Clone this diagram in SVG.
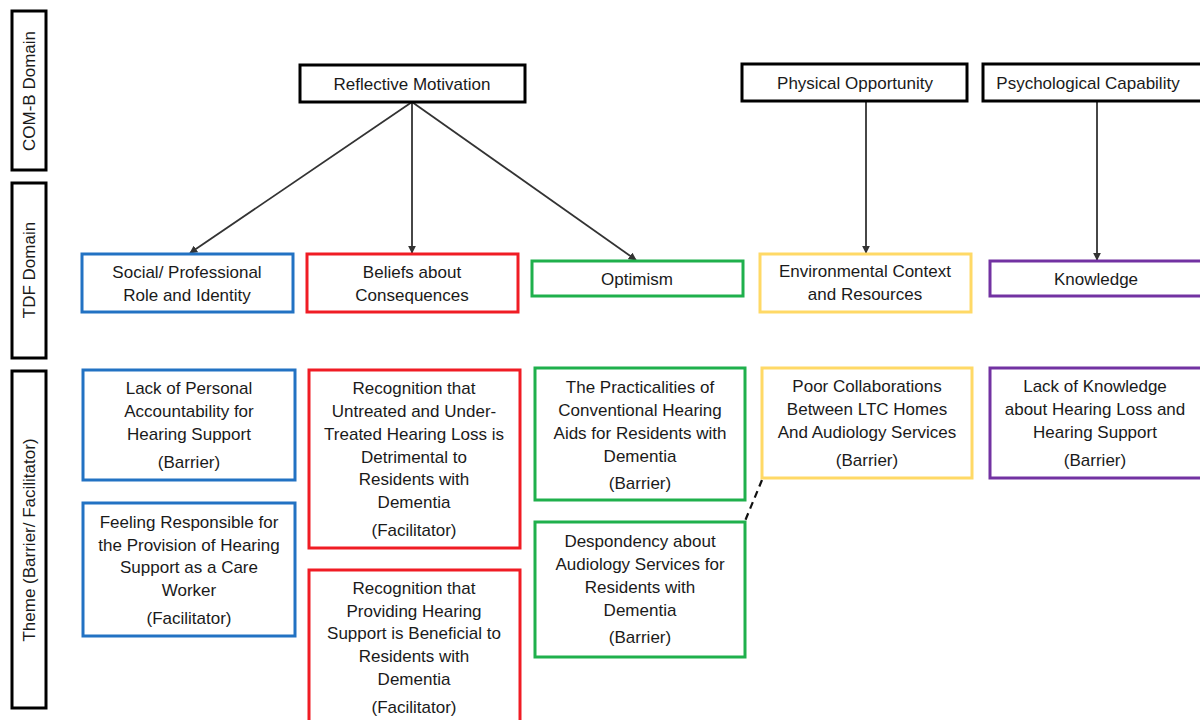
<svg xmlns="http://www.w3.org/2000/svg" width="1200" height="720" viewBox="0 0 1200 720">
<defs>
<marker id="ah" viewBox="0 0 10 10" refX="9" refY="5" markerWidth="8" markerHeight="8" markerUnits="userSpaceOnUse" orient="auto">
<path d="M0,0 L10,5 L0,10 z" fill="#333"/>
</marker>
<style>
text{font-family:"Liberation Sans",Arial,sans-serif;font-size:17px;fill:#1a1a1a;text-anchor:middle}
.blk{fill:#fff;stroke:#000;stroke-width:3}
.lab{fill:#fff;stroke:#000;stroke-width:3}
.blue{fill:#fff;stroke:#2272c3;stroke-width:3}
.red{fill:#fff;stroke:#f01c24;stroke-width:3}
.green{fill:#fff;stroke:#1fb04c;stroke-width:3}
.yellow{fill:#fff;stroke:#ffd966;stroke-width:3}
.purple{fill:#fff;stroke:#7232a2;stroke-width:3}
.conn{stroke:#333;stroke-width:1.8;fill:none}
</style>
</defs>
<rect width="1200" height="720" fill="#fff"/>

<g id="label-comb"><rect class="lab" x="12" y="11" width="34" height="159"/><text transform="translate(35,91) rotate(-90)">COM-B Domain</text></g>
<g id="label-tdf"><rect class="lab" x="12" y="183" width="34" height="175"/><text transform="translate(35,270) rotate(-90)">TDF  Domain</text></g>
<g id="label-theme"><rect class="lab" x="12" y="371" width="34" height="337"/><text transform="translate(35,540) rotate(-90)">Theme (Barrier/ Facilitator)</text></g>

<g id="connectors">
<line class="conn" x1="412" y1="102" x2="190" y2="253" marker-end="url(#ah)"/>
<line class="conn" x1="412" y1="102" x2="412" y2="253" marker-end="url(#ah)"/>
<line class="conn" x1="412" y1="102" x2="636" y2="260" marker-end="url(#ah)"/>
<line class="conn" x1="866" y1="101" x2="866" y2="253" marker-end="url(#ah)"/>
<line class="conn" x1="1097" y1="101" x2="1097" y2="260" marker-end="url(#ah)"/>
<line x1="762" y1="480" x2="745" y2="521" stroke="#111" stroke-width="2.2" stroke-dasharray="7,5"/>
</g>

<g id="reflective-motivation"><rect class="blk" x="300" y="65" width="225" height="37"/><text x="412" y="90">Reflective Motivation</text></g>
<g id="physical-opportunity"><rect class="blk" x="742" y="64" width="225" height="37"/><text x="855" y="89">Physical Opportunity</text></g>
<g id="psychological-capability"><rect class="blk" x="983" y="64" width="230" height="37"/><text x="1088" y="89">Psychological Capability</text></g>

<g id="tdf-social"><rect class="blue" x="82" y="254" width="211" height="58"/><text x="187" y="278">Social/ Professional</text><text x="187" y="301">Role and Identity</text></g>
<g id="tdf-beliefs"><rect class="red" x="307" y="254" width="211" height="58"/><text x="412" y="278">Beliefs about</text><text x="412" y="301">Consequences</text></g>
<g id="tdf-optimism"><rect class="green" x="532" y="261" width="211" height="35"/><text x="637" y="285">Optimism</text></g>
<g id="tdf-environmental"><rect class="yellow" x="760" y="254" width="211" height="58"/><text x="865" y="277">Environmental Context</text><text x="865" y="300">and Resources</text></g>
<g id="tdf-knowledge"><rect class="purple" x="990" y="261" width="220" height="35"/><text x="1096" y="285">Knowledge</text></g>

<g id="theme-lack-accountability"><rect class="blue" x="83" y="370" width="212" height="110"/>
<text x="189" y="394">Lack of Personal</text><text x="189" y="417">Accountability for</text><text x="189" y="440">Hearing Support</text><text x="189" y="468">(Barrier)</text></g>

<g id="theme-feeling-responsible"><rect class="blue" x="83" y="503" width="212" height="133"/>
<text x="189" y="528">Feeling Responsible for</text><text x="189" y="551">the Provision of Hearing</text><text x="189" y="573">Support as a Care</text><text x="189" y="596">Worker</text><text x="189" y="624">(Facilitator)</text></g>

<g id="theme-recognition-untreated"><rect class="red" x="309" y="370" width="211" height="178"/>
<text x="414" y="394">Recognition that</text><text x="414" y="417">Untreated and Under-</text><text x="414" y="440">Treated Hearing Loss is</text><text x="414" y="463">Detrimental to</text><text x="414" y="485">Residents with</text><text x="414" y="508">Dementia</text><text x="414" y="536">(Facilitator)</text></g>

<g id="theme-recognition-providing"><rect class="red" x="309" y="570" width="211" height="160"/>
<text x="414" y="594">Recognition that</text><text x="414" y="617">Providing Hearing</text><text x="414" y="639">Support is Beneficial to</text><text x="414" y="662">Residents with</text><text x="414" y="685">Dementia</text><text x="414" y="713">(Facilitator)</text></g>

<g id="theme-practicalities"><rect class="green" x="535" y="368" width="210" height="132"/>
<text x="640" y="393">The Practicalities of</text><text x="640" y="416">Conventional Hearing</text><text x="640" y="439">Aids for Residents with</text><text x="640" y="462">Dementia</text><text x="640" y="489">(Barrier)</text></g>

<g id="theme-despondency"><rect class="green" x="535" y="522" width="210" height="135"/>
<text x="640" y="547">Despondency about</text><text x="640" y="570">Audiology Services for</text><text x="640" y="593">Residents with</text><text x="640" y="616">Dementia</text><text x="640" y="643">(Barrier)</text></g>

<g id="theme-poor-collaborations"><rect class="yellow" x="762" y="368" width="210" height="110"/>
<text x="867" y="392">Poor Collaborations</text><text x="867" y="415">Between LTC Homes</text><text x="867" y="438">And Audiology Services</text><text x="867" y="466">(Barrier)</text></g>

<g id="theme-lack-knowledge"><rect class="purple" x="990" y="368" width="220" height="110"/>
<text x="1095" y="392">Lack of Knowledge</text><text x="1095" y="415">about Hearing Loss and</text><text x="1095" y="438">Hearing Support</text><text x="1095" y="466">(Barrier)</text></g>
</svg>
